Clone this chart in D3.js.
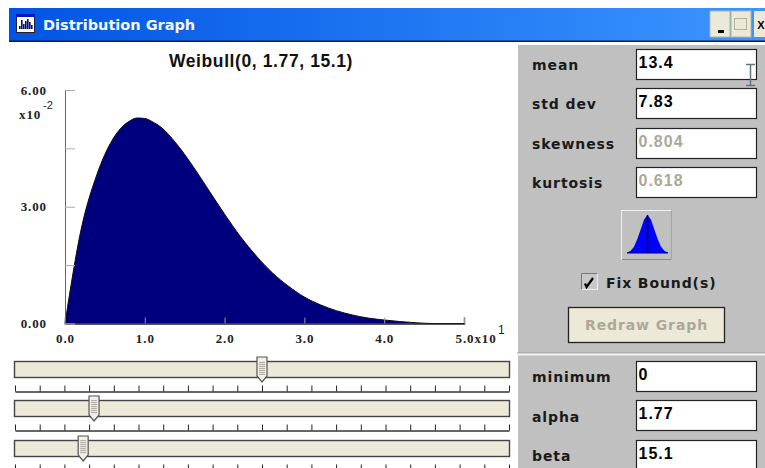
<!DOCTYPE html>
<html><head><meta charset="utf-8">
<script src="https://cdn.jsdelivr.net/npm/d3@7/dist/d3.min.js"></script>
<style>
html,body{margin:0;padding:0;background:#fff;overflow:hidden}
svg{display:block}
.lab{font-family:"DejaVu Sans",sans-serif;font-weight:700;font-size:14px;fill:#1a1a1a;letter-spacing:.9px}
.val{font-family:"Liberation Sans",sans-serif;font-weight:700;font-size:16px;fill:#000;letter-spacing:1px}
.tk{font-family:"Liberation Serif",serif;font-weight:700;font-size:13px;fill:#222;letter-spacing:.9px}
</style></head><body>
<svg id="c" width="765" height="468"></svg>
<script>
const chartTitle = "Weibull(0, 1.77, 15.1)";
const density = [0,2.40,3.83,4.74,5.02,5.19,5.28,5.27,5.18,5.05,4.61,4.05,3.43,2.81,2.23,1.73,1.30,0.96,0.68,0.48,0.33,0.22,0.14,0.09,0.05,0.02,0,0,0];
const xValues = [0,2,4,6,7,8,9,10,11,12,14,16,18,20,22,24,26,28,30,32,34,36,38,40,42,44,46,48,50];
const xTicks = [0,10,20,30,40,50];
const xTickLabels = ["0.0","1.0","2.0","3.0","4.0","5.0x10"];
const yTicks = [0,1.5,3,4.5,6];
const yTickLabels = {0:"0.00",3:"3.00",6:"6.00"};
const topLabels = ["mean","std dev","skewness","kurtosis"];
const topValues = ["13.4","7.83","0.804","0.618"];
const topEnabled = [true,true,false,false];
const bottomLabels = ["minimum","alpha","beta"];
const bottomValues = ["0","1.77","15.1"];
const sliderPositions = [0.5,0.16,0.138];
const sliderTops = [361,400,440];
const sliderTickCount = 20;
const bell = [[-3,.01],[-2.5,.05],[-2,.16],[-1.5,.36],[-1,.62],[-.5,.88],[0,1],[.5,.88],[1,.62],[1.5,.36],[2,.16],[2.5,.05],[3,.01]];
const iconBars = [3,9,5,8,10,7,4];

const svg = d3.select("#c");
const defs = svg.append("defs");
const g = defs.append("linearGradient").attr("id","tb");
g.append("stop").attr("offset",0).attr("stop-color","#0054e3");
g.append("stop").attr("offset",1).attr("stop-color","#3d95ff");
const rib = defs.append("pattern").attr("id","rib").attr("width",4).attr("height",2).attr("patternUnits","userSpaceOnUse");
rib.append("rect").attr("width",4).attr("height",2).attr("fill","#e6e4da");
rib.append("rect").attr("width",4).attr("height",1).attr("fill","#b4b2a8");

// title bar
svg.append("rect").attr("x",9).attr("y",8).attr("width",756).attr("height",33).attr("fill","url(#tb)");
svg.append("rect").attr("x",9).attr("y",40.5).attr("width",756).attr("height",1.5).attr("fill","#10203a");
svg.append("rect").attr("x",16.5).attr("y",14.5).attr("width",18).attr("height",18).attr("fill","#fff").attr("stroke","#222");
svg.append("rect").attr("x",16).attr("y",14).attr("width",19).attr("height",3).attr("fill","#0018c0");
iconBars.forEach((h,i)=>svg.append("rect").attr("x",19+i*2).attr("y",29-h).attr("width",1.6).attr("height",h).attr("fill","#00107a"));
svg.append("text").attr("x",43).attr("y",30).attr("font-family","DejaVu Sans").attr("font-weight",700).attr("font-size",14.5).attr("fill","#f4f8ff").text("Distribution Graph");
[[710,20],[731,20]].forEach(([x,w])=>svg.append("rect").attr("x",x).attr("y",11).attr("width",w).attr("height",26).attr("fill","#ece9d8").attr("stroke","#b8b4a0"));
svg.append("rect").attr("x",754).attr("y",11).attr("width",11).attr("height",26).attr("fill","#ece9d8");
svg.append("rect").attr("x",718).attr("y",30).attr("width",6).attr("height",3).attr("fill","#000");
svg.append("rect").attr("x",734.5).attr("y",18.5).attr("width",12).attr("height",11).attr("fill","none").attr("stroke","#b5b29f");
svg.append("text").attr("x",757.3).attr("y",29).attr("font-family","Liberation Sans").attr("font-weight",700).attr("font-size",11).attr("fill","#000").text("X");

// chart
const x = d3.scaleLinear().domain([0,50]).range([65,464]);
const y = d3.scaleLinear().domain([0,6]).range([323.5,90]);
svg.append("text").attr("x",261).attr("y",67).attr("text-anchor","middle").attr("font-family","Liberation Sans").attr("font-weight",700).attr("font-size",17.5).attr("letter-spacing",.6).attr("fill","#111").text(chartTitle);

const pts = xValues.map((v,i)=>[v,density[i]]);
svg.append("path").datum(pts)
  .attr("d",d3.area().x(d=>x(d[0])).y0(y(0)).y1(d=>y(d[1])).curve(d3.curveMonotoneX))
  .attr("fill","#00007f");
svg.append("path").datum(pts)
  .attr("d",d3.line().x(d=>x(d[0])).y(d=>y(d[1])).curve(d3.curveMonotoneX))
  .attr("fill","none").attr("stroke","#111").attr("stroke-width",1);

const xAxis = d3.axisBottom(x).tickValues(xTicks).tickSize(-6).tickPadding(10).tickFormat((d,i)=>xTickLabels[i]);
const ax = svg.append("g").attr("transform",`translate(0,${y(0)})`).call(xAxis);
ax.select(".domain").attr("stroke","#222").attr("stroke-width",1.4);
ax.selectAll("line").attr("stroke","#999");
ax.selectAll("text").attr("class","tk").attr("fill",null).attr("font-size",null).attr("font-family",null);
ax.selectAll(".tick").filter(d=>d===50).select("text").attr("text-anchor","start").attr("dx",-9);
svg.append("text").attr("x",498).attr("y",334).attr("font-family","Liberation Sans").attr("font-size",12).attr("fill","#222").text("1");

const yAxis = d3.axisLeft(y).tickValues(yTicks).tickSize(-10).tickPadding(18).tickFormat(d=>yTickLabels[d]||"");
const ay = svg.append("g").attr("transform","translate(65,0)").call(yAxis);
ay.select(".domain").attr("stroke","#666").attr("stroke-width",1);
ay.selectAll("line").attr("stroke","#aaa");
ay.selectAll("text").attr("class","tk").attr("fill",null).attr("font-size",null).attr("font-family",null);
svg.append("text").attr("class","tk").attr("x",19).attr("y",119).text("x10");
svg.append("text").attr("x",43).attr("y",109).attr("font-family","Liberation Sans").attr("font-size",11).attr("fill","#222").text("-2");

// sliders
const sx = d3.scaleLinear().domain([0,1]).range([15,509]);
sliderPositions.forEach((p,i)=>{
  const top = sliderTops[i];
  svg.append("rect").attr("x",14.5).attr("y",top+.5).attr("width",495).attr("height",16).attr("fill","#ece9d8").attr("stroke","#444").attr("stroke-width",1.4);
  const base = top+30.5;
  const tg = svg.append("g").attr("transform",`translate(0,${base})`)
    .call(d3.axisTop(sx).tickValues(d3.range(sliderTickCount+1).map(k=>k/sliderTickCount)).tickSize(6).tickSizeOuter(0).tickFormat(""));
  tg.select(".domain").attr("stroke","#333").attr("stroke-width",1.3);
  tg.selectAll("line").attr("stroke","#222");
  const c = sx(p);
  svg.append("path").attr("d",`M${c-5},${top-4}h10v19l-5,6l-5,-6z`).attr("fill","#f2f0e6").attr("stroke","#555").attr("stroke-width",1.2);
  svg.append("rect").attr("x",c-3).attr("y",top).attr("width",6).attr("height",14).attr("fill","url(#rib)");
});

// right panel
svg.append("rect").attr("x",518).attr("y",45).attr("width",247).attr("height",423).attr("fill","#c0c0c0");
svg.append("rect").attr("x",517).attr("y",352.5).attr("width",248).attr("height",1).attr("fill","#999");
svg.append("rect").attr("x",517).attr("y",353.5).attr("width",248).attr("height",2).attr("fill","#f4f4f4");

function field(lbl,val,ly,by,on){
  svg.append("text").attr("class","lab").attr("x",532).attr("y",ly).text(lbl);
  svg.append("rect").attr("x",636.5).attr("y",by+.5).attr("width",120).attr("height",30).attr("fill","#fff").attr("stroke","#222").attr("stroke-width",1.2);
  svg.append("text").attr("class","val").attr("x",638.5).attr("y",by+18.7).style("fill",on?"#000":"#aca899").text(val);
}
const topY=[49,88,128,167], topL=[70,109,149,188];
topLabels.forEach((l,i)=>field(l,topValues[i],topL[i],topY[i],topEnabled[i]));
const botY=[361,400,440], botL=[382,422,461];
bottomLabels.forEach((l,i)=>field(l,bottomValues[i],botL[i],botY[i],true));

// I-beam cursor
svg.append("path").attr("d","M746,64.5h9M750.5,64.5v21M746,85.5h9").attr("stroke","#5f7680").attr("stroke-width",1.5).attr("fill","none");

// distribution button
svg.append("rect").attr("x",621.5).attr("y",210.5).attr("width",49).attr("height",49).attr("fill","#c0c0c0").attr("stroke","#f0f0f0");
svg.append("path").attr("d","M622,259.5H671V211").attr("fill","none").attr("stroke","#8a8a8a");
const bx=d3.scaleLinear().domain([-3,3]).range([627,668]), by=d3.scaleLinear().domain([0,1]).range([253,215]);
svg.append("path").datum(bell).attr("d",d3.area().x(d=>bx(d[0])).y0(by(0)).y1(d=>by(d[1]))).attr("fill","#0000ff");
svg.append("line").attr("x1",bx(0)).attr("x2",bx(0)).attr("y1",by(1)).attr("y2",by(0)).attr("stroke","#000").attr("stroke-width",1.5);
svg.append("line").attr("x1",bx(-3)).attr("x2",bx(3)).attr("y1",by(0)).attr("y2",by(0)).attr("stroke","#000080");

// checkbox
svg.append("rect").attr("x",581.5).attr("y",273.5).attr("width",16).attr("height",16).attr("fill","#c8c8c8").attr("stroke","#eee");
svg.append("path").attr("d","M581.5,289.5v-16h16").attr("fill","none").attr("stroke","#777");
svg.append("path").attr("d","M585,283.5l1.6,3.5l6.4,-9").attr("fill","none").attr("stroke","#000").attr("stroke-width",2.2);
svg.append("text").attr("class","lab").attr("x",606).attr("y",288).text("Fix Bound(s)");

// redraw button
svg.append("rect").attr("x",568.5).attr("y",307.5).attr("width",156).attr("height",35).attr("fill","#ece9d8").attr("stroke","#222").attr("stroke-width",1.3);
svg.append("text").attr("class","lab").attr("x",646.5).attr("y",330).attr("text-anchor","middle").style("fill","#aca899").text("Redraw Graph");
</script>
</body></html>
